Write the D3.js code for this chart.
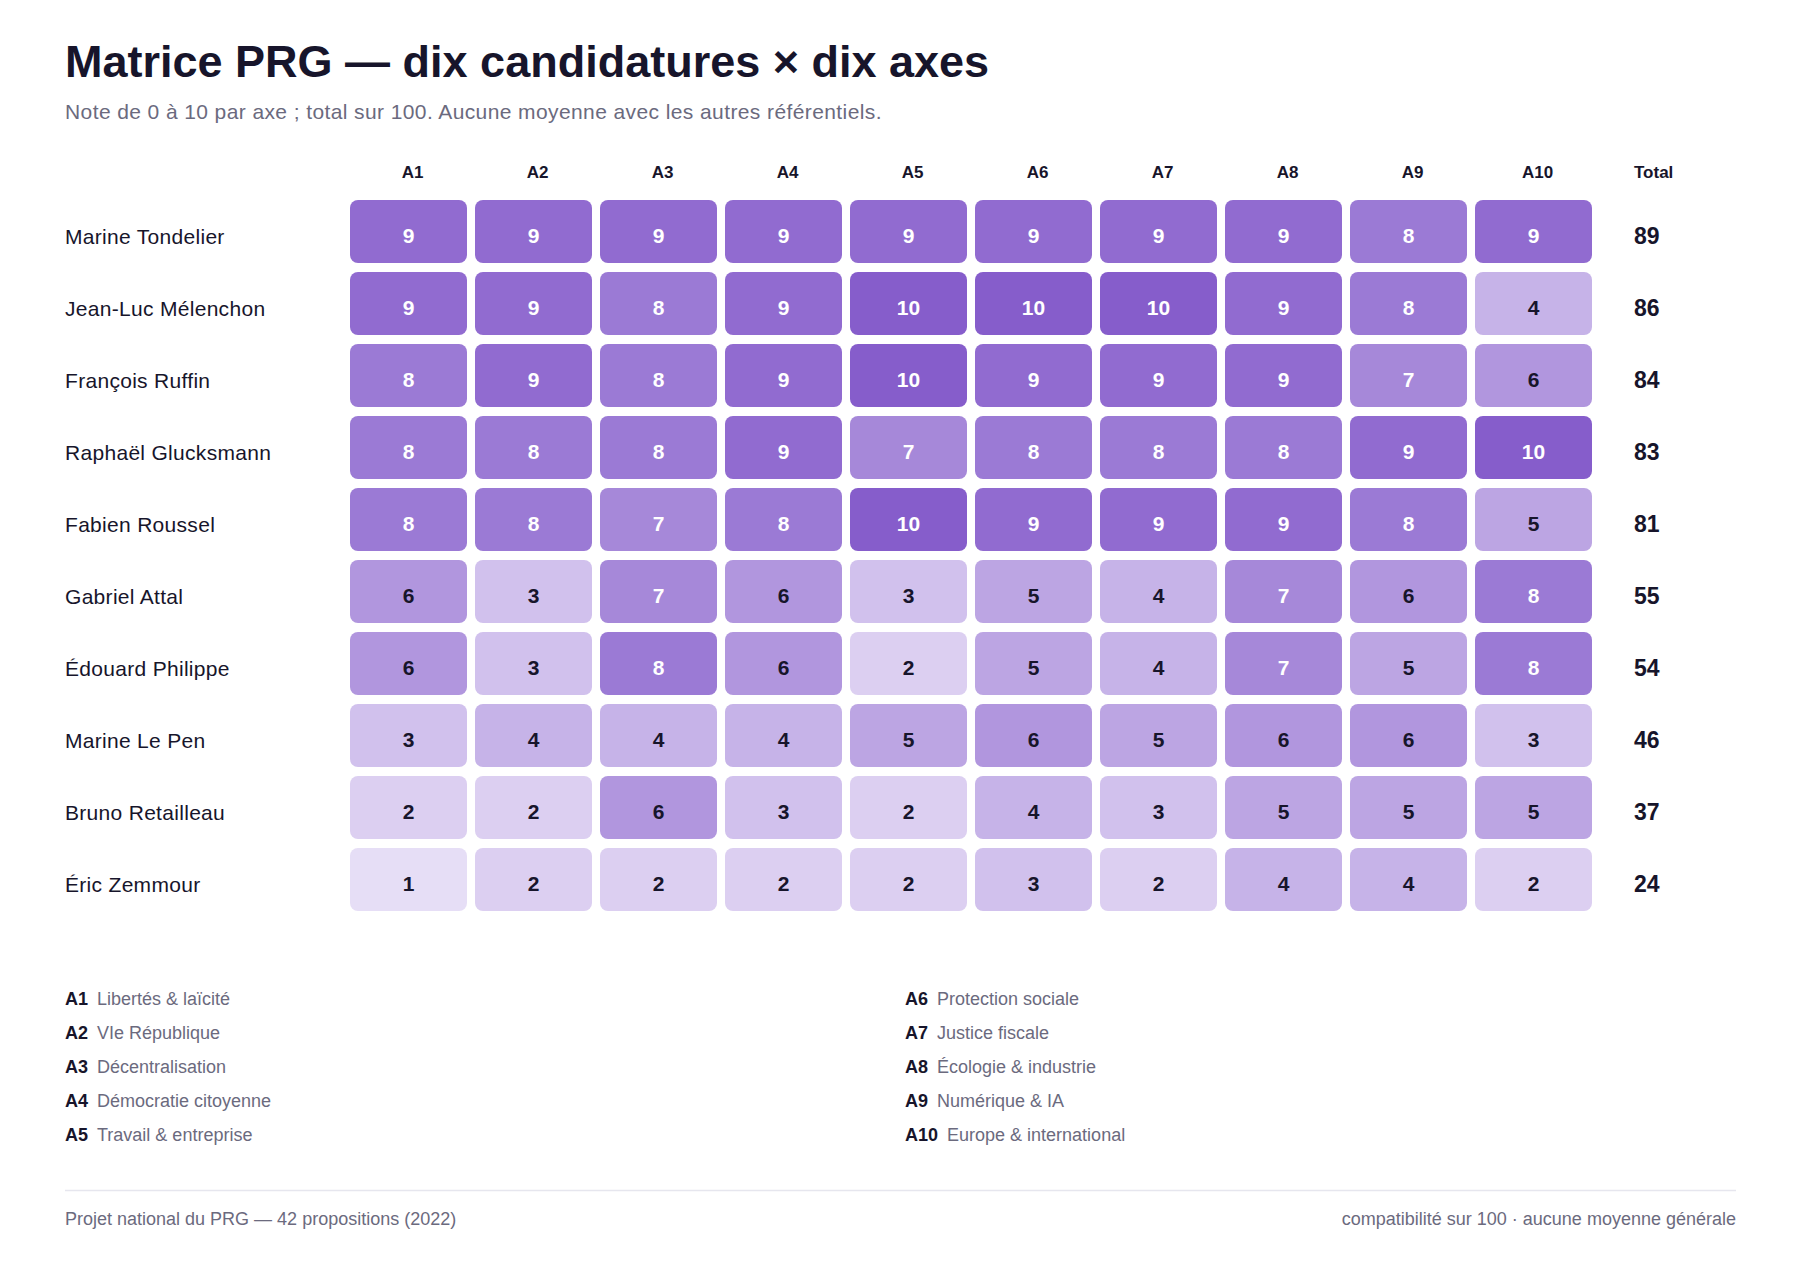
<!DOCTYPE html>
<html>
<head>
<meta charset="utf-8">
<script src="https://cdn.jsdelivr.net/npm/d3@7"></script>
<style>
	body{margin:0;background:#fff;}
	text{font-family:'Liberation Sans',Arial,Helvetica,sans-serif;}
</style>
</head>
<body>
<div id="matrix_div"></div>
<script>

////////////////////////////////////////
////////////////////////////////////////
////////////////////////////////////////

var candidates = ['Marine Tondelier','Jean-Luc Mélenchon','François Ruffin','Raphaël Glucksmann','Fabien Roussel','Gabriel Attal','Édouard Philippe','Marine Le Pen','Bruno Retailleau','Éric Zemmour'];
var axes = ['A1','A2','A3','A4','A5','A6','A7','A8','A9','A10'];
var axisNames = ['Libertés & laïcité','VIe République','Décentralisation','Démocratie citoyenne','Travail & entreprise','Protection sociale','Justice fiscale','Écologie & industrie','Numérique & IA','Europe & international'];
var scores = [
	[9,9,9,9,9,9,9,9,8,9],
	[9,9,8,9,10,10,10,9,8,4],
	[8,9,8,9,10,9,9,9,7,6],
	[8,8,8,9,7,8,8,8,9,10],
	[8,8,7,8,10,9,9,9,8,5],
	[6,3,7,6,3,5,4,7,6,8],
	[6,3,8,6,2,5,4,7,5,8],
	[3,4,4,4,5,6,5,6,6,3],
	[2,2,6,3,2,4,3,5,5,5],
	[1,2,2,2,2,3,2,4,4,2]
];
var totals = [89,86,84,83,81,55,54,46,37,24];

////////////////////////////////////////
////////////////////////////////////////
////////////////////////////////////////

var matrix_w = 1800;
var matrix_h = 1280;
var left = 65;
var right = 1736;
var ink = '#17152b';
var grey = '#6b6a7e';

var matrix_vis = d3.select('#matrix_div')
	.append('svg')
	.attr('width',matrix_w)
	.attr('height',matrix_h)
	.attr('id','matrix_svg');

matrix_vis.append('rect')
	.attr('width',matrix_w)
	.attr('height',matrix_h)
	.attr('fill','#fff');

var x = d3.scaleBand()
	.domain(axes)
	.range([350,1600]);

var y = d3.scaleBand()
	.domain(candidates)
	.range([200,920]);

var color = d3.scaleLinear()
	.domain([0,10])
	.range(['#f1ecfb','#865dcb'])
	.interpolate(d3.interpolateRgb);

var cell_w = x.bandwidth()-8;
var cell_h = y.bandwidth()-9;

////////////////////////////////////////
////////////////////////////////////////
////////////////////////////////////////

matrix_vis.append('text')
	.attr('x',left)
	.attr('y',77)
	.attr('fill',ink)
	.attr('font-size',45)
	.attr('font-weight','bold')
	.text('Matrice PRG — dix candidatures × dix axes');

matrix_vis.append('text')
	.attr('x',left)
	.attr('y',119)
	.attr('fill',grey)
	.attr('font-size',21)
	.attr('letter-spacing',0.4)
	.text('Note de 0 à 10 par axe ; total sur 100. Aucune moyenne avec les autres référentiels.');

matrix_vis.selectAll('text.axis_head')
	.data(axes)
	.enter()
		.append('text')
		.attr('class','axis_head')
		.attr('x',function(d){
			return x(d)+x.bandwidth()/2;
		})
		.attr('y',178)
		.attr('text-anchor','middle')
		.attr('fill',ink)
		.attr('font-size',17)
		.attr('font-weight','bold')
		.text(function(d){ return d; });

matrix_vis.append('text')
	.attr('x',1634)
	.attr('y',178)
	.attr('fill',ink)
	.attr('font-size',17)
	.attr('font-weight','bold')
	.text('Total');

////////////////////////////////////////
////////////////////////////////////////
////////////////////////////////////////

var rows = matrix_vis.selectAll('g.matrix_row')
	.data(candidates)
	.enter()
		.append('g')
		.attr('class','matrix_row')
		.attr('transform',function(d){
			return 'translate(0,'+y(d)+')';
		});

rows.append('text')
	.attr('x',left)
	.attr('y',44)
	.attr('fill',ink)
	.attr('font-size',21)
	.attr('letter-spacing',0.3)
	.text(function(d){ return d; });

rows.append('text')
	.attr('x',1634)
	.attr('y',44)
	.attr('fill',ink)
	.attr('font-size',23)
	.attr('font-weight','bold')
	.text(function(d,i){ return totals[i]; });

var cells = rows.selectAll('g.matrix_cell')
	.data(function(d,i){
		return scores[i].map(function(v,j){
			return {'axis':axes[j],'value':v};
		});
	})
	.enter()
		.append('g')
		.attr('class','matrix_cell');

cells.append('rect')
	.attr('x',function(d){ return x(d.axis); })
	.attr('y',0)
	.attr('width',cell_w)
	.attr('height',cell_h)
	.attr('rx',8)
	.attr('ry',8)
	.attr('fill',function(d){ return color(d.value); });

cells.append('text')
	.attr('x',function(d){ return x(d.axis)+cell_w/2; })
	.attr('y',42.5)
	.attr('text-anchor','middle')
	.attr('font-size',21)
	.attr('font-weight','bold')
	.attr('fill',function(d){
		if(d.value>=7) return '#ffffff';
		else return ink;
	})
	.text(function(d){ return d.value; });

////////////////////////////////////////
////////////////////////////////////////
////////////////////////////////////////

var legend = matrix_vis.selectAll('text.legend_item')
	.data(axes)
	.enter()
		.append('text')
		.attr('class','legend_item')
		.attr('x',function(d,i){
			if(i<5) return left;
			else return 905;
		})
		.attr('y',function(d,i){
			return 1005+(i%5)*34;
		})
		.attr('font-size',18);

legend.append('tspan')
	.attr('fill',ink)
	.attr('font-weight','bold')
	.text(function(d){ return d; });

legend.append('tspan')
	.attr('dx',9)
	.attr('fill',grey)
	.text(function(d,i){ return axisNames[i]; });

////////////////////////////////////////
////////////////////////////////////////
////////////////////////////////////////

matrix_vis.append('line')
	.attr('x1',left)
	.attr('x2',right)
	.attr('y1',1190.5)
	.attr('y2',1190.5)
	.attr('stroke','#e6e6ee')
	.attr('stroke-width',1.5);

matrix_vis.append('text')
	.attr('x',left)
	.attr('y',1225)
	.attr('fill',grey)
	.attr('font-size',18)
	.text('Projet national du PRG — 42 propositions (2022)');

matrix_vis.append('text')
	.attr('x',right)
	.attr('y',1225)
	.attr('text-anchor','end')
	.attr('fill',grey)
	.attr('font-size',18)
	.text('compatibilité sur 100 · aucune moyenne générale');

</script>
</body>
</html>
